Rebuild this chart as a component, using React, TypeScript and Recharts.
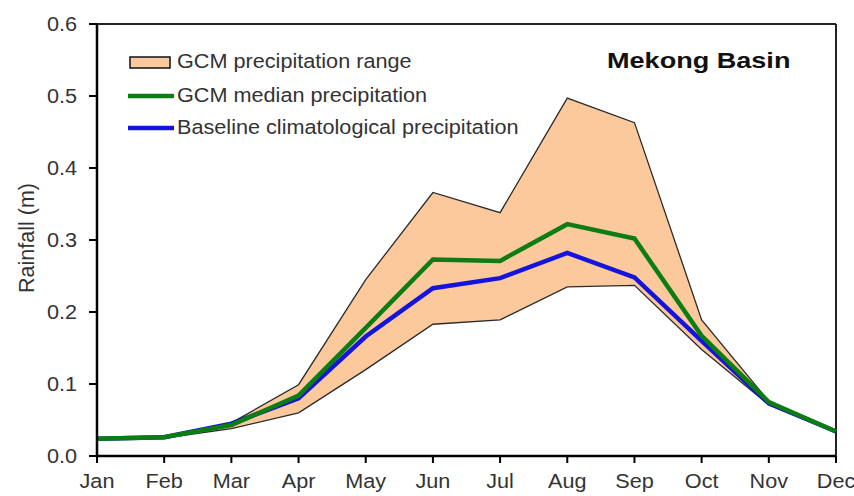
import {
  ComposedChart, Area, Line, XAxis, YAxis, ReferenceLine,
} from 'recharts';

// Mekong basin monthly rainfall (m)
const months = ['Jan', 'Feb', 'Mar', 'Apr', 'May', 'Jun', 'Jul', 'Aug', 'Sep', 'Oct', 'Nov', 'Dec'];
const gcmRangeLow = [0.023, 0.025, 0.038, 0.060, 0.120, 0.183, 0.189, 0.235, 0.237, 0.148, 0.071, 0.033];
const gcmRangeHigh = [0.024, 0.027, 0.046, 0.099, 0.245, 0.366, 0.338, 0.497, 0.463, 0.189, 0.076, 0.034];
const gcmMedian = [0.024, 0.026, 0.043, 0.084, 0.178, 0.273, 0.271, 0.322, 0.302, 0.167, 0.075, 0.034];
const baselineClim = [0.024, 0.026, 0.045, 0.080, 0.166, 0.233, 0.247, 0.282, 0.248, 0.160, 0.073, 0.034];
const yTicks = [0, 0.1, 0.2, 0.3, 0.4, 0.5, 0.6];

const FONT = '"Liberation Sans", Arial, sans-serif';
const PEACH = '#FCC99C';
const GREEN = '#0B7D12';
const BLUE = '#1414DC';
const TEXT = '#333';
const FS = 19.5;
const SX = 1.11; // text is drawn a little wide

const chartData = months.map((m, i) => ({
  month: m,
  range: [gcmRangeLow[i], gcmRangeHigh[i]],
  median: gcmMedian[i],
  baseline: baselineClim[i],
}));

// horizontally widened text
const WideText = ({ x, y, children, anchor = 'start', size = FS, sx = SX, weight = 'normal', fill = TEXT }: any) => (
  <text
    transform={`translate(${x},${y}) scale(${sx},1)`}
    textAnchor={anchor}
    fontSize={size}
    fontWeight={weight}
    fontFamily={FONT}
    fill={fill}
  >
    {children}
  </text>
);

const XTick = ({ x, y, payload }: any) => (
  <WideText x={x} y={y + 23} anchor="middle">{payload.value}</WideText>
);

const YTick = ({ x, y, payload }: any) => (
  <WideText x={x - 10} y={y + 7} anchor="end">{Number(payload.value).toFixed(1)}</WideText>
);

export default function App() {
  return (
    <div style={{ position: 'absolute', left: 0, top: 0, background: '#fff' }}>
      <ComposedChart
        width={854}
        height={496}
        data={chartData}
        margin={{ top: 24, right: 18, left: 17, bottom: 4 }}
      >
        <XAxis
          dataKey="month"
          padding={{ left: 0, right: 0 }}
          tick={<XTick />}
          tickSize={7}
          height={36}
          axisLine={{ stroke: '#000', strokeWidth: 2.5 }}
          tickLine={{ stroke: '#000', strokeWidth: 2 }}
          interval={0}
        />
        <YAxis
          domain={[0, 0.6]}
          ticks={yTicks}
          tick={<YTick />}
          tickSize={8}
          width={80}
          axisLine={{ stroke: '#000', strokeWidth: 2.5 }}
          tickLine={{ stroke: '#000', strokeWidth: 2 }}
        />
        {/* frame: top and right edges */}
        <ReferenceLine y={0.6} stroke="#222" strokeWidth={2} />
        <ReferenceLine x="Dec" stroke="#222" strokeWidth={2} />

        <Area
          dataKey="range"
          type="linear"
          fill={PEACH}
          fillOpacity={1}
          stroke="#2a2a2a"
          strokeWidth={1.3}
          isAnimationActive={false}
          dot={false}
          activeDot={false}
        />
        <Line dataKey="baseline" type="linear" stroke={BLUE} strokeWidth={4.5} dot={false} isAnimationActive={false} />
        <Line dataKey="median" type="linear" stroke={GREEN} strokeWidth={4.5} dot={false} isAnimationActive={false} />

        {/* axis title */}
        <text
          transform="translate(34,238) rotate(-90)"
          textAnchor="middle"
          fontSize={21.5}
          fontFamily={FONT}
          fill={TEXT}
        >
          Rainfall (m)
        </text>

        {/* legend + title */}
        <g>
          <rect x={130} y={57} width={40} height={11} fill={PEACH} stroke="#111" strokeWidth={1.5} />
          <WideText x={177} y={68}>GCM precipitation range</WideText>
          <line x1={128} x2={174} y1={96} y2={96} stroke={GREEN} strokeWidth={4.5} />
          <WideText x={177} y={102}>GCM median precipitation</WideText>
          <line x1={128} x2={174} y1={128} y2={128} stroke={BLUE} strokeWidth={4.5} />
          <WideText x={177} y={134}>Baseline climatological precipitation</WideText>
          <WideText x={607} y={68} size={22} sx={1.23} weight="bold" fill="#111">Mekong Basin</WideText>
        </g>
      </ComposedChart>
    </div>
  );
}
